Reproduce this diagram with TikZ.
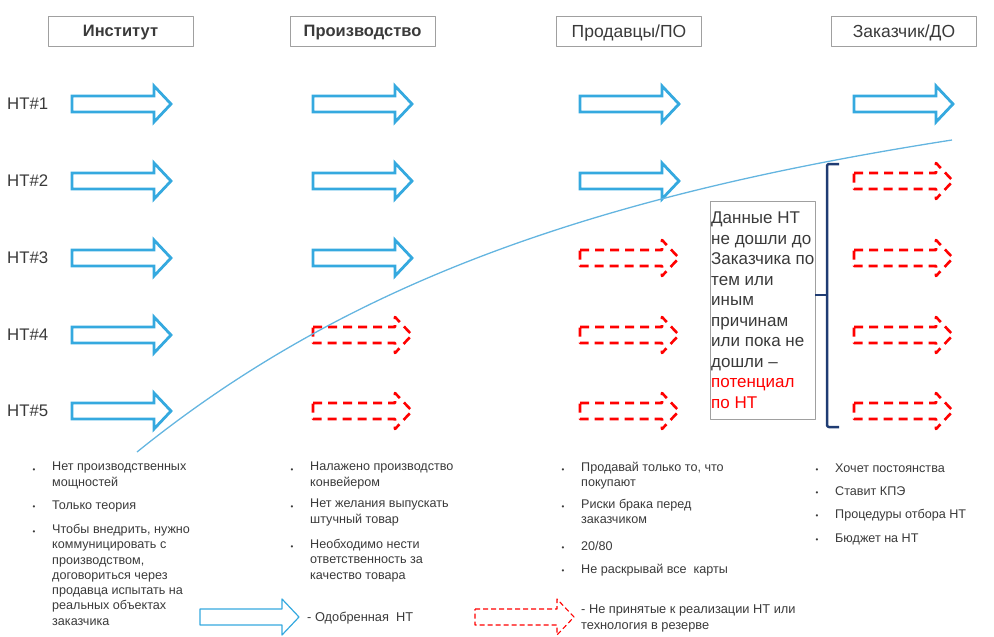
\documentclass[tikz,border=0pt]{standalone}
\usepackage{fontspec}
\setmainfont{Liberation Sans}
\definecolor{ntblue}{HTML}{35A9DF}
\definecolor{curveblue}{HTML}{64B5E0}
\definecolor{bracketblue}{HTML}{1F3C73}
\definecolor{txtgray}{HTML}{3A3A3A}
\definecolor{boxgray}{HTML}{A0A0A0}
\tikzset{
  okarrow/.style={draw=ntblue, line width=2.8pt, line join=miter},
  noarrow/.style={draw=red, line width=2.6pt, dash pattern=on 9pt off 6pt},
  okthin/.style={draw=ntblue, line width=1.2pt},
  nothin/.style={draw=red, line width=1.1pt, dash pattern=on 5pt off 3pt},
  headbox/.style={draw=boxgray, line width=0.9pt, minimum width=145pt, minimum height=30pt,
    inner sep=0pt, text=txtgray, text height=12.4pt, text depth=0pt,
    font=\fontsize{17.5}{20}\selectfont},
  htlbl/.style={anchor=west, inner sep=0pt, text=txtgray, font=\fontsize{16.8}{19}\selectfont},
  itemtxt/.style={anchor=north west, inner sep=0pt, align=left, text=txtgray,
    font=\fontsize{12.6}{15.3}\selectfont, execute at begin node=\rule{0pt}{10pt}},
  dotb/.style={anchor=base, inner sep=0pt, text=txtgray, font=\fontsize{8}{10}\selectfont},
}
% arrow outline: style, left end x, middle y
\newcommand\ntshape[3]{%
  \draw[#1] (#2,#3) ++(0,-8) -- ++(82,0) -- ++(0,-10) -- ++(17,18) -- ++(-17,18)
    -- ++(0,-10) -- ++(-82,0) -- cycle;}
% bullet item: name, x, baseline y, text
\newcommand\ntitem[4]{%
  \node[dotb] (#1d) at (#2-18,#3) {•};
  \node[itemtxt] (#1) at (#2,#3-10) {#4};}
\begin{document}
\begin{tikzpicture}[x=1pt, y=-1pt, line join=round]
 \useasboundingbox (0,0) rectangle (994,637);
 % column heads
 \node[headbox, text height=11.8pt, font=\fontsize{16.5}{19}\selectfont\bfseries] (inst) at (120.5,31) {Институт};
 \node[headbox, text height=11.8pt, font=\fontsize{16.5}{19}\selectfont\bfseries] (proizv) at (362.5,31) {Производство};
 \node[headbox] (prod) at (629,31) {Продавцы/ПО};
 \node[headbox] (zak) at (904,31) {Заказчик/ДО};
 % rows
 \foreach \r/\ry in {1/104,2/181,3/258,4/335,5/411}
   \node[htlbl] (ht\r) at (7,\ry) {НТ\#\r};
 \foreach \cx/\first in {72/6,313/4,580/3,854/2}
   \foreach \r/\ry in {1/104,2/181,3/258,4/335,5/411}{
     \ifnum\r<\first\relax \ntshape{okarrow}{\cx}{\ry} \else \ntshape{noarrow}{\cx}{\ry} \fi
   };
 % border of reached technologies
 \draw[curveblue, line width=1.3pt] (137,452) .. controls (350,280) and (600,195) .. (952,140);
 % potential box
 \node[draw=boxgray, line width=0.9pt, minimum width=105pt, minimum height=218pt, inner sep=0pt]
   (potbox) at (762.5,310) {};
 \node[anchor=north west, inner sep=0pt, align=left, text=txtgray, font=\fontsize{17}{20.5}\selectfont,
   execute at begin node=\rule{0pt}{13pt}]
   (pottext) at (711,212) {Данные НТ\\не дошли до\\Заказчика по\\тем или\\иным\\причинам\\или пока не\\дошли –\\
   \textcolor{red}{потенциал}\\\textcolor{red}{по НТ}};
 \draw[bracketblue, line width=2.5pt, rounded corners=2pt] (839,164) -- (827,164) -- (827,427) -- (839,427);
 \draw[bracketblue, line width=2.5pt] (827,295) -- (potbox.east |- 0,295);
 % notes
 \ntitem{ia}{52}{472}{Нет производственных\\мощностей}
 \ntitem{ib}{52}{509}{Только теория}
 \ntitem{ic}{52}{534}{Чтобы внедрить, нужно\\коммуницировать с\\производством,\\договориться через\\продавца испытать на\\реальных объектах\\заказчика}
 \ntitem{pa}{310}{472}{Налажено производство\\конвейером}
 \ntitem{pb}{310}{509}{Нет желания выпускать\\штучный товар}
 \ntitem{pc}{310}{549}{Необходимо нести\\ответственность за\\качество товара}
 \ntitem{sa}{581}{472}{Продавай только то, что\\покупают}
 \ntitem{sb}{581}{509}{Риски брака перед\\заказчиком}
 \ntitem{sc}{581}{550}{20/80}
 \ntitem{sd}{581}{573}{Не раскрывай все~~карты}
 \ntitem{za}{835}{472}{Хочет постоянства}
 \ntitem{zb}{835}{495}{Ставит КПЭ}
 \ntitem{zc}{835}{518}{Процедуры отбора НТ}
 \ntitem{zd}{835}{542}{Бюджет на НТ}
 % legend
 \ntshape{okthin}{200}{617}
 \node[itemtxt, font=\fontsize{12.8}{16.5}\selectfont] (lgok) at (307,611) {- Одобренная~~НТ};
 \ntshape{nothin}{475}{617}
 \node[itemtxt, font=\fontsize{12.8}{16.5}\selectfont] (lgno) at (581,604) {- Не принятые к реализации НТ или\\технология в резерве};
\end{tikzpicture}
\end{document}
